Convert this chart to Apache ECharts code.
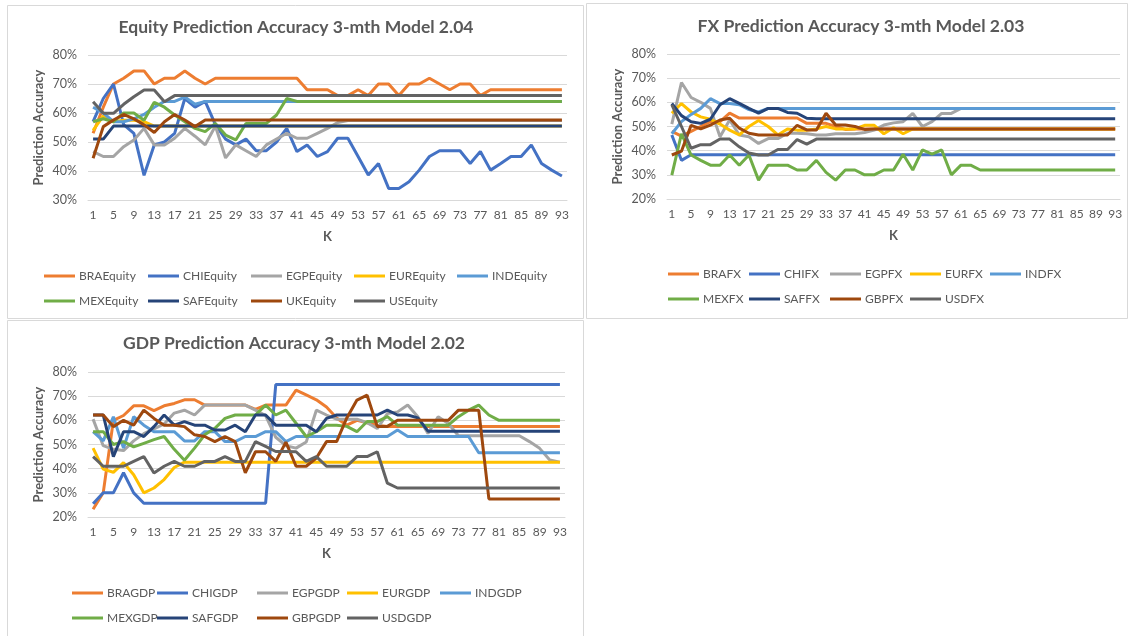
<!DOCTYPE html>
<html><head><meta charset="utf-8">
<script src="https://cdn.jsdelivr.net/npm/echarts@6/dist/echarts.min.js"></script>
<style>html,body{margin:0;padding:0;background:#fff}#c{width:1128px;height:636px}</style>
</head><body><div id="c"></div>
<script>
// ---- categories (K) ----
const K = ['1','3','5','7','9','11','13','15','17','19','21','23','25','27','29','31','33','35','37','39','41','43','45','47','49','51','53','55','57','59','61','63','65','67','69','71','73','75','77','79','81','83','85','87','89','91','93'];
const Y_TICKS_EQ = [30, 80, 10];
const Y_TICKS_FX = [20, 80, 10];
const Y_TICKS_GDP = [20, 80, 10];

// ---- Equity series ----
const EQ_NAMES = ['BRAEquity','CHIEquity','EGPEquity','EUREquity','INDEquity','MEXEquity','SAFEquity','UKEquity','USEquity'];
const BRA_EQ = [53,62,70,72,74.5,74.5,70,72,72,74.5,72,70,72,72,72,72,72,72,72,72,72,68,68,68,66,66,68,66,70,70,66,70,70,72,70,68,70,70,66,68,68,68,68,68,68,68,68];
const CHI_EQ = [57,65,70,56,53,38.5,49,50,53,65,62,64,56,51,49,51,47,47,50,54.7,46.7,49,45,46.7,51.3,51.3,45,38.6,42.6,34,34,36.3,40.3,45,47,47,47,42.6,46.7,40.3,42.6,45,45,49,42.6,40.3,38.3];
const EGP_EQ = [46.7,45,45,48.4,50.7,54.7,49,49,51.3,54.7,52,49,55.5,44.5,49,47,45,49,51,53,51.3,51.3,53,54.7,56.7,57.4,57.4,57.4,57.4,57.4,57.4,57.4,57.4,57.4,57.4,57.4,57.4,57.4,57.4,57.4,57.4,57.4,57.4,57.4,57.4,57.4,57.4];
const EUR_EQ = [54,59,57,57.5,57.5,57,55.5,55.5,55.5,55.5,55.5,55.5,55.5,55.5,55.5,55.5,55.5,55.5,55.5,55.5,55.5,55.5,55.5,55.5,55.5,55.5,55.5,55.5,55.5,55.5,55.5,55.5,55.5,55.5,55.5,55.5,55.5,55.5,55.5,55.5,55.5,55.5,55.5,55.5,55.5,55.5,55.5];
const IND_EQ = [62,60,57,57,58,59.5,62,64,64,65.5,63,64,64,64,64,64,64,64,64,64,64,64,64,64,64,64,64,64,64,64,64,64,64,64,64,64,64,64,64,64,64,64,64,64,64,64,64];
const MEX_EQ = [57,58,57,60,60,57.5,63.7,62,59.3,57,54.7,53.6,56.4,52.4,50.7,56.4,56.4,56.4,59.3,65,64,64,64,64,64,64,64,64,64,64,64,64,64,64,64,64,64,64,64,64,64,64,64,64,64,64,64];
const SAF_EQ = [51,51,55.5,55.5,55.5,55.5,55.5,55.5,55.5,55.5,55.5,55.5,55.5,55.5,55.5,55.5,55.5,55.5,55.5,55.5,55.5,55.5,55.5,55.5,55.5,55.5,55.5,55.5,55.5,55.5,55.5,55.5,55.5,55.5,55.5,55.5,55.5,55.5,55.5,55.5,55.5,55.5,55.5,55.5,55.5,55.5,55.5];
const UK_EQ = [44.4,55.3,57.6,59.5,58,55.9,53.3,57,59.5,57.6,55.3,57.6,57.6,57.6,57.6,57.6,57.6,57.6,57.6,57.6,57.6,57.6,57.6,57.6,57.6,57.6,57.6,57.6,57.6,57.6,57.6,57.6,57.6,57.6,57.6,57.6,57.6,57.6,57.6,57.6,57.6,57.6,57.6,57.6,57.6,57.6,57.6];
const US_EQ = [63.9,59.9,59.9,63,65.6,67.9,67.9,63.9,66,66,66,66,66,66,66,66,66,66,66,66,66,66,66,66,66,66,66,66,66,66,66,66,66,66,66,66,66,66,66,66,66,66,66,66,66,66,66];

// ---- FX series ----
const FX_NAMES = ['BRAFX','CHIFX','EGPFX','EURFX','INDFX','MEXFX','SAFFX','GBPFX','USDFX'];
const BRA_FX = [48,46,48,50,52,52,55.5,53.5,53.5,53.5,53.5,53.5,53.5,53.5,51.3,51.3,51.3,50,48.8,49,49,49,49,49,49,49,49,49,49,49,49,49,49,49,49,49,49,49,49,49,49,49,49,49,49,49,49];
const CHI_FX = [46.5,36,38.3,38.3,38.3,38.3,38.3,38.3,38.3,38.3,38.3,38.3,38.3,38.3,38.3,38.3,38.3,38.3,38.3,38.3,38.3,38.3,38.3,38.3,38.3,38.3,38.3,38.3,38.3,38.3,38.3,38.3,38.3,38.3,38.3,38.3,38.3,38.3,38.3,38.3,38.3,38.3,38.3,38.3,38.3,38.3,38.3];
const EGP_FX = [51,68.2,62,60,57.5,45.8,52.7,46.5,45.8,43,45,45,47.2,47.2,47,46.5,46.5,47,47,47,47.5,48.5,50.6,51.5,52,55.4,50,52,55.4,55.4,57.5,57.5,57.5,57.5,57.5,57.5,57.5,57.5,57.5,57.5,57.5,57.5,57.5,57.5,57.5,57.5,57.5];
const EUR_FX = [55.5,59.5,56,54,53,51,48.5,46.5,50,52.5,50,46.5,49,48.5,48.5,49,50,49,49,49,50.5,50.5,47,49.5,47,49,49,49,49,49,49,49,49,49,49,49,49,49,49,49,49,49,49,49,49,49,49];
const IND_FX = [47,52,55,57.5,61.5,59.5,59.5,59,57,56,57.5,57.5,57.5,57.5,57.5,57.5,57.5,57.5,57.5,57.5,57.5,57.5,57.5,57.5,57.5,57.5,57.5,57.5,57.5,57.5,57.5,57.5,57.5,57.5,57.5,57.5,57.5,57.5,57.5,57.5,57.5,57.5,57.5,57.5,57.5,57.5,57.5];
const MEX_FX = [29.9,47,38.2,36,34,34,38.2,34,38.2,27.8,34,34,34,32,32,36,31,27.8,32,32,30,30,32,32,38.5,32,40.3,38.6,40.3,30,34,34,32,32,32,32,32,32,32,32,32,32,32,32,32,32,32];
const SAF_FX = [59.5,54.5,52,51.3,53,59,61.5,59.6,57.5,55.5,57.5,57.5,55.8,55.5,53.4,53.2,53.2,53.2,53.2,53.2,53.2,53.2,53.2,53.2,53.2,53.2,53.2,53.2,53.2,53.2,53.2,53.2,53.2,53.2,53.2,53.2,53.2,53.2,53.2,53.2,53.2,53.2,53.2,53.2,53.2,53.2,53.2];
const GBP_FX = [38.2,39.8,50.5,49,50.6,52.7,53.4,49.3,47.2,46.5,46.5,46.5,46.5,50.5,48.6,48.6,55.5,50.6,50.6,50,48.8,49,49,49,49,49,49,49,49,49,49,49,49,49,49,49,49,49,49,49,49,49,49,49,49,49,49];
const USD_FX = [59,50,41,42.5,42.5,44.8,44.8,41.6,39,38.2,38.2,40.5,40.5,44.6,42.7,44.8,44.8,44.8,44.8,44.8,44.8,44.8,44.8,44.8,44.8,44.8,44.8,44.8,44.8,44.8,44.8,44.8,44.8,44.8,44.8,44.8,44.8,44.8,44.8,44.8,44.8,44.8,44.8,44.8,44.8,44.8,44.8];

// ---- GDP series ----
const GDP_NAMES = ['BRAGDP','CHIGDP','EGPGDP','EURGDP','INDGDP','MEXGDP','SAFGDP','GBPGDP','USDGDP'];
const BRA_GDP = [23.2,30,60,62,66,66,64,66,67,68.5,68.5,66.3,66.3,66.3,66.3,66.3,64.5,66.3,66.3,66.3,72.5,70.5,68.5,65.5,61,58,60,59,58,57.5,57.5,57.5,57.5,57.5,57.5,57.5,57.5,57.5,57.5,57.5,57.5,57.5,57.5,57.5,57.5,57.5,57.5];
const CHI_GDP = [25.5,30,30,38.3,30,25.7,25.7,25.7,25.7,25.7,25.7,25.7,25.7,25.7,25.7,25.7,25.7,25.7,74.8,74.8,74.8,74.8,74.8,74.8,74.8,74.8,74.8,74.8,74.8,74.8,74.8,74.8,74.8,74.8,74.8,74.8,74.8,74.8,74.8,74.8,74.8,74.8,74.8,74.8,74.8,74.8,74.8];
const EGP_GDP = [60.5,49.5,48,47.5,51.5,54.5,56.5,58.5,63,64.2,62.2,66.3,66.3,66.3,66.3,66.3,64.2,62,53,49.5,48.5,51,64.2,62.2,60.5,60.5,60.5,59,56.6,62.8,63.5,66.3,61.5,54.6,61.5,58.7,53.6,53.6,53.6,53.6,53.6,53.6,53.6,51.2,48.4,43.6,42.7];
const EUR_GDP = [48.5,39.8,38.5,42.5,37.5,30,32,35.5,40.5,42.7,42.7,42.7,42.7,42.7,42.7,42.7,42.7,42.7,42.7,42.7,42.7,42.7,42.7,42.7,42.7,42.7,42.7,42.7,42.7,42.7,42.7,42.7,42.7,42.7,42.7,42.7,42.7,42.7,42.7,42.7,42.7,42.7,42.7,42.7,42.7,42.7,42.7];
const IND_GDP = [55.3,51.5,61.5,48.5,61.5,58,55.3,55.3,55.3,51.5,51.5,55.3,55.3,51.2,51.2,53.3,53.3,55.3,55.3,51.2,53.3,53.3,53.3,53.3,53.3,53.3,53.3,53.3,53.3,53.3,56,53.3,53.3,53.3,53.3,53.3,53.3,53.3,46.6,46.6,46.6,46.6,46.6,46.6,46.6,46.6,46.6];
const MEX_GDP = [55.3,55.3,50,51.2,49,50.5,52,53.3,48,43.5,48.5,54,56.7,60.8,62.2,62.2,62.2,66.3,62.2,64.2,58.8,53.3,55.3,58,58,57.5,55.3,59.5,59.5,61.5,58,58,58,58,58,58,61.5,64.2,66.3,62.2,60,60,60,60,60,60,60];
const SAF_GDP = [62.2,62.2,45,55.3,55.3,53.3,57.4,62.2,58,59.5,58,58,56,56,58,55.3,62.2,62.2,58,58,58,58,55.3,60.8,62.2,62.2,62.2,62.2,62.2,64.2,62.2,62.2,61,55.5,55.5,55.5,55.5,55.5,55.5,55.5,55.5,55.5,55.5,55.5,55.5,55.5,55.5];
const GBP_GDP = [62.2,62.2,57.4,60,58,64.2,60.8,58,58,57.4,54,53.3,51.2,53.3,51.2,38.3,47,47,43,51,41,41,44.4,51.2,51.2,61,68.4,70.4,57.5,57.5,60,60,60,60,60,60,64.2,64.2,64.2,27.5,27.5,27.5,27.5,27.5,27.5,27.5,27.5];
const USD_GDP = [45,41,41,41,43,45,38.2,41,43,41,41,43,43,45,43,43,51.2,49.2,47.1,47.1,47,43,45,41,41,41,45,45,47,34,32,32,32,32,32,32,32,32,32,32,32,32,32,32,32,32,32];

// ---- styling / layout ----
const FONT = 'Lato, "Open Sans", sans-serif';
const TXT = '#595959';
const GRID_C = '#D9D9D9';
const COLORS = ['#ED7D31','#4472C4','#A5A5A5','#FFC000','#5B9BD5','#70AD47','#264478','#9E480E','#636363'];

const panels = [
  {title:'Equity Prediction Accuracy 3-mth Model 2.04', tx:296, ty:27,
   box:[7,5,576,313], grid:{left:88, top:55, width:479, height:145}, ticks:Y_TICKS_EQ,
   names:EQ_NAMES, data:[BRA_EQ,CHI_EQ,EGP_EQ,EUR_EQ,IND_EQ,MEX_EQ,SAF_EQ,UK_EQ,US_EQ],
   cols:[44,148,251,354,457], rows:[277,302]},
  {title:'FX Prediction Accuracy 3-mth Model 2.03', tx:861, ty:26,
   box:[586,3,541,315], grid:{left:667, top:54, width:453, height:145}, ticks:Y_TICKS_FX,
   names:FX_NAMES, data:[BRA_FX,CHI_FX,EGP_FX,EUR_FX,IND_FX,MEX_FX,SAF_FX,GBP_FX,USD_FX],
   cols:[668,749,830,910,990], rows:[275,300]},
  {title:'GDP Prediction Accuracy 3-mth Model 2.02', tx:294, ty:343,
   box:[7,320,576,320], grid:{left:88, top:372, width:477, height:145}, ticks:Y_TICKS_GDP,
   names:GDP_NAMES, data:[BRA_GDP,CHI_GDP,EGP_GDP,EUR_GDP,IND_GDP,MEX_GDP,SAF_GDP,GBP_GDP,USD_GDP],
   cols:[72,157,257,347,440], rows:[594,619]}
];

const option = {animation:false, grid:[], xAxis:[], yAxis:[], series:[], legend:[], graphic:[]};
panels.forEach((p, gi) => {
  option.graphic.push({type:'rect', silent:true, z:-10,
    shape:{x:p.box[0]+0.5, y:p.box[1]+0.5, width:p.box[2], height:p.box[3]},
    style:{fill:'#fff', stroke:GRID_C, lineWidth:1}});
  option.graphic.push({type:'text', silent:true, x:p.tx, y:p.ty,
    style:{text:p.title, font:'bold 17.5px ' + FONT, fill:TXT, align:'center', verticalAlign:'middle',
           textAlign:'center', textVerticalAlign:'middle'}});
  option.grid.push(Object.assign({containLabel:false}, p.grid));
  option.xAxis.push({gridIndex:gi, type:'category', data:K, boundaryGap:true,
    axisLabel:{interval:1, fontFamily:FONT, fontSize:12, color:TXT, margin:9},
    axisTick:{show:false}, axisLine:{lineStyle:{color:GRID_C, width:1}},
    name:'K', nameLocation:'middle', nameGap:30,
    nameTextStyle:{fontFamily:FONT, fontSize:13, fontWeight:'bold', color:TXT}});
  option.yAxis.push({gridIndex:gi, type:'value', min:p.ticks[0], max:p.ticks[1], interval:p.ticks[2],
    axisLabel:{formatter:'{value}%', fontFamily:FONT, fontSize:12.5, color:TXT, margin:11},
    axisLine:{show:false}, axisTick:{show:false},
    splitLine:{lineStyle:{color:GRID_C, width:1}},
    name:'Prediction Accuracy', nameLocation:'middle', nameGap:43, nameRotate:90,
    nameTextStyle:{fontFamily:FONT, fontSize:13, fontWeight:'bold', color:TXT}});
  p.names.forEach((nm, si) => {
    option.series.push({type:'line', name:nm, data:p.data[si], xAxisIndex:gi, yAxisIndex:gi,
      symbol:'none', smooth:false, lineStyle:{width:3, color:COLORS[si]}, itemStyle:{color:COLORS[si]},
      emphasis:{disabled:true}});
    const col = si % 5, row = Math.floor(si / 5);
    option.legend.push({data:[nm], left:p.cols[col], top:p.rows[row]-7, padding:0,
      icon:'rect', itemWidth:31, itemHeight:3, itemGap:0, selectedMode:false,
      textStyle:{fontFamily:FONT, fontSize:12, color:TXT, padding:[0,0,0,-1]}});
  });
});

const chart = echarts.init(document.getElementById('c'), null, {renderer:'canvas'});
chart.setOption(option);
</script>
</body></html>
